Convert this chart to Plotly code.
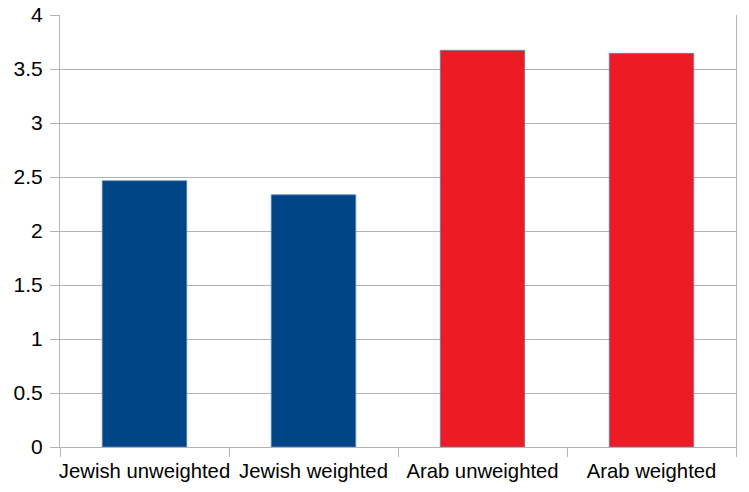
import plotly.graph_objects as go

categories = ["Jewish unweighted", "Jewish weighted", "Arab unweighted", "Arab weighted"]
values = [2.465, 2.335, 3.673, 3.645]
colors = ["#004586", "#004586", "#ED1C24", "#ED1C24"]
y_ticks = [0, 0.5, 1, 1.5, 2, 2.5, 3, 3.5, 4]

fig = go.Figure(go.Bar(
    x=categories, y=values, width=0.5,
    marker=dict(color=colors, line=dict(color="#5f87b8", width=0.8)),
    hoverinfo="skip",
))

fig.update_layout(
    width=749, height=492,
    margin=dict(l=60, r=13, t=15, b=45),
    plot_bgcolor="white", paper_bgcolor="white",
    font=dict(family="Liberation Sans, Arial, sans-serif", size=20, color="black"),
    showlegend=False,
    bargap=0.5,
)
fig.update_xaxes(
    showline=True, linecolor="#b3b3b3", linewidth=1,
    ticks="outside", ticklen=9, tickcolor="#b3b3b3", tickson="boundaries",
    showgrid=False, tickfont=dict(size=20.3), automargin=False,
    tickangle=0, ticklabelstandoff=6,
)
fig.update_yaxes(
    range=[0, 4], tickvals=y_ticks, ticktext=[f"{v:g}" for v in y_ticks],
    showgrid=True, gridcolor="#b3b3b3", gridwidth=1,
    showline=True, linecolor="#b3b3b3", linewidth=1, mirror=True,
    ticks="outside", ticklen=9, tickcolor="#b3b3b3",
    zeroline=False, tickfont=dict(size=21), automargin=False,
    ticklabelstandoff=3,
)
fig.write_html("out.html", config={"displayModeBar": False},
               post_script="document.body.style.margin='0';")
